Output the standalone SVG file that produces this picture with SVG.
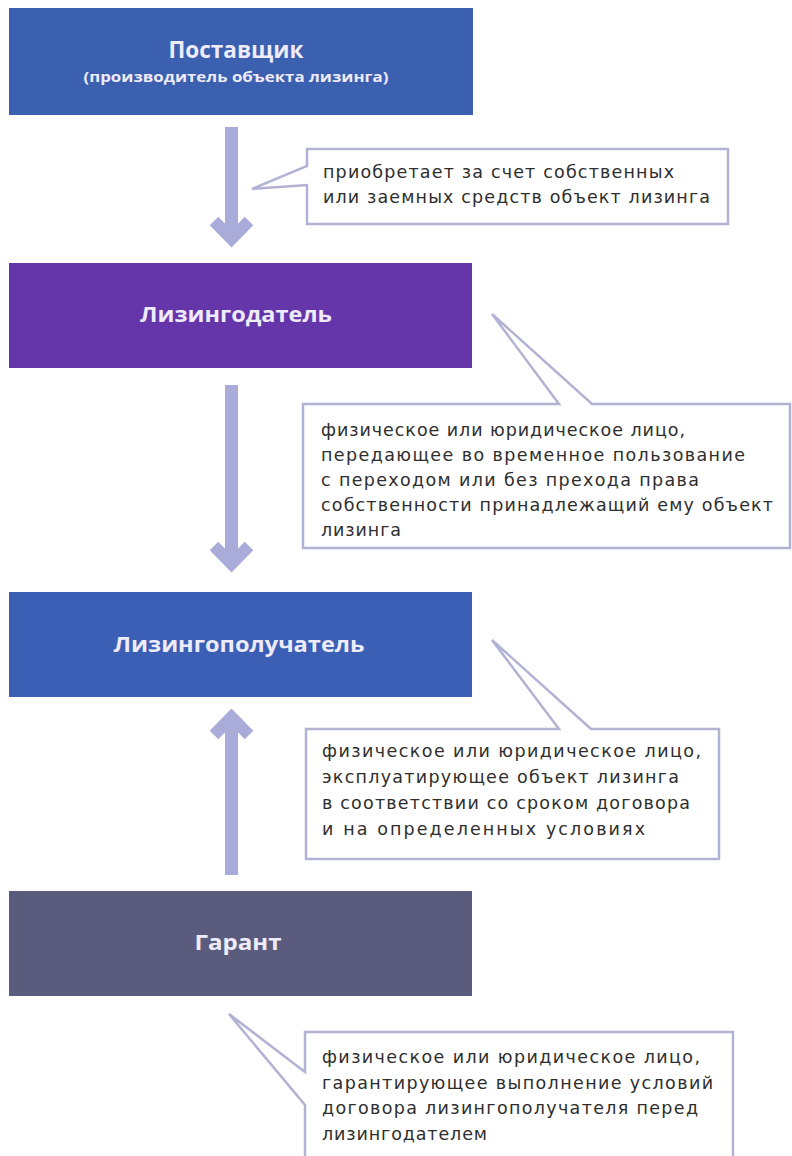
<svg xmlns="http://www.w3.org/2000/svg" width="792" height="1156" viewBox="0 0 792 1156">
<style>
.node{stroke:none}
.title{font-family:"Open Sans","Liberation Sans",sans-serif;font-weight:700;fill:#eeebfa;text-anchor:middle}
.callout{fill:#ffffff;stroke:#b2b2d4;stroke-width:2.5;stroke-linejoin:miter}
.ct{font-family:"DejaVu Sans","Liberation Sans",sans-serif;font-size:17.5px;fill:#2e2e2e}
.shaft{fill:none;stroke:#a9acd8;stroke-width:13}
.head{fill:none;stroke:#a9acd8;stroke-width:12;stroke-linejoin:miter;stroke-miterlimit:10}
</style>
<rect width="792" height="1156" fill="#ffffff"/>

<g id="connectors">
  <path class="shaft" d="M231.5,127 V238"/>
  <path class="head" d="M214,221 L231.5,239 L249,221"/>
  <path class="shaft" d="M231.5,385 V563"/>
  <path class="head" d="M214,546 L231.5,564 L249,546"/>
  <path class="shaft" d="M231.5,875 V718"/>
  <path class="head" d="M214,735 L231.5,717 L249,735"/>
</g>

<g id="node-supplier">
  <rect class="node" x="9" y="8" width="464" height="107" fill="#3c60b0"/>
  <text class="title" x="236" y="58" font-size="23.5" textLength="135" lengthAdjust="spacingAndGlyphs">Поставщик</text>
  <text class="title" x="236" y="82" font-size="15" textLength="305" lengthAdjust="spacingAndGlyphs">(производитель объекта лизинга)</text>
</g>

<g id="callout-supplier">
  <path class="callout" d="M307,149 H728 V224 H307 V185 L252,189 L307,166 Z"/>
  <text class="ct" x="323" y="178" textLength="351">приобретает за счет собственных</text>
  <text class="ct" x="323" y="203" textLength="387">или заемных средств объект лизинга</text>
</g>

<g id="node-lessor">
  <rect class="node" x="9" y="263" width="463" height="105" fill="#6536aa"/>
  <text class="title" x="236" y="322" font-size="22" textLength="192" lengthAdjust="spacingAndGlyphs">Лизингодатель</text>
</g>

<g id="callout-lessor">
  <path class="callout" d="M303,404 H559 L492,314 L592,404 H790 V548 H303 Z"/>
  <text class="ct" x="321" y="436" textLength="364">физическое или юридическое лицо,</text>
  <text class="ct" x="321" y="461" textLength="424">передающее во временное пользование</text>
  <text class="ct" x="321" y="486" textLength="378">с переходом или без прехода права</text>
  <text class="ct" x="321" y="511" textLength="452">собственности принадлежащий ему объект</text>
  <text class="ct" x="321" y="536" textLength="80">лизинга</text>
</g>

<g id="node-lessee">
  <rect class="node" x="9" y="592" width="463" height="105" fill="#3a5fb4"/>
  <text class="title" x="239" y="652" font-size="22" textLength="251" lengthAdjust="spacingAndGlyphs">Лизингополучатель</text>
</g>

<g id="callout-lessee">
  <path class="callout" d="M306,729 H559 L492,640 L591,729 H719 V859 H306 Z"/>
  <text class="ct" x="322" y="757" textLength="379">физическое или юридическое лицо,</text>
  <text class="ct" x="322" y="783" textLength="357">эксплуатирующее объект лизинга</text>
  <text class="ct" x="322" y="809" textLength="368">в соответствии со сроком договора</text>
  <text class="ct" x="322" y="835" textLength="323">и на определенных условиях</text>
</g>

<g id="node-guarantor">
  <rect class="node" x="9" y="891" width="463" height="105" fill="#5b5b7e"/>
  <text class="title" x="238" y="950" font-size="22" textLength="87" lengthAdjust="spacingAndGlyphs">Гарант</text>
</g>

<g id="callout-guarantor">
  <path class="callout" d="M305,1032 H733 V1170 H305 V1105 L229,1014 L305,1072 Z"/>
  <text class="ct" x="322" y="1063" textLength="378">физическое или юридическое лицо,</text>
  <text class="ct" x="322" y="1089" textLength="391">гарантирующее выполнение условий</text>
  <text class="ct" x="322" y="1114" textLength="376">договора лизингополучателя перед</text>
  <text class="ct" x="322" y="1140" textLength="165">лизингодателем</text>
</g>
</svg>
